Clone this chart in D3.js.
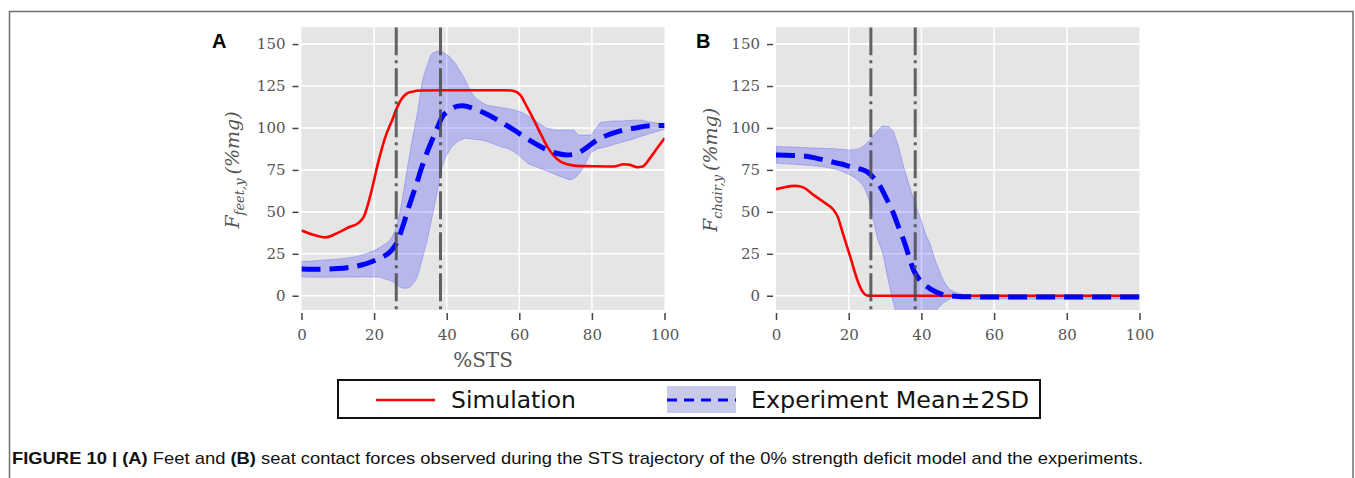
<!DOCTYPE html>
<html>
<head>
<meta charset="utf-8">
<script src="https://cdn.jsdelivr.net/npm/d3@7"></script>
<style>
  html, body { margin: 0; padding: 0; background: #fff; }
  svg { display: block; }
</style>
</head>
<body>
<svg id="fig" width="1355" height="478"></svg>
<script>
// ---- data: %STS vs contact force (%mg) ----
// Panel A: feet contact force
const feetSim = [[0,38.9],[3,36.5],[6.6,34.8],[10,37.5],[13,40.8],[15.8,43.6],[17.2,47.2],[19,60],[21.3,81],[23,94],[25,104.8],[26.5,113],[27.7,117.7],[29,120.5],[30.5,121.6],[33,122.3],[40,122.5],[50,122.5],[56,122.5],[58.5,122],[60.3,119.6],[62,113],[64,104.8],[66,96],[67.7,88.9],[69.5,83.5],[71.3,80],[73.5,78.2],[75.9,77.4],[80,77.2],[86,77],[88.8,78.4],[90.5,78],[92.5,76.6],[94,77],[96,82],[98,88],[100,93.9]];
const feetMean = [[0,15.9],[3,15.8],[6.5,15.9],[10,16.2],[13,16.9],[16.5,18.3],[19.5,20.4],[22,22.8],[24,25.4],[25.5,29],[26.4,32.3],[28,42],[29.6,53.2],[31.5,65.5],[33.2,77],[34.6,85.5],[36,92.9],[37.5,100.5],[38.8,106.7],[40,109.5],[41.5,111.7],[43,113],[44.3,113.3],[46,112.6],[48,111],[49.8,109.5],[53,106],[58.5,98.8],[63,92.5],[67.7,86.9],[70.5,84.8],[73.2,83.9],[75,84.3],[76.9,85.9],[79,89],[81.5,92.9],[85,96.3],[88.8,98.8],[92,100],[95.2,101.2],[100,101.5]];
const feetUpper = [[0,20.4],[5,21],[12.1,22.4],[17,24.5],[21.3,28.4],[23.5,31.5],[25,35.3],[26.5,44],[27.7,57],[29,74],[30.5,92.9],[32,110],[33.2,126.6],[34.6,137],[36,144.4],[37.5,145.8],[38.8,145.4],[40.5,143],[42.4,138.5],[44.5,131],[47,120.6],[49.3,115.7],[50.7,114],[54,112.5],[58.5,110.7],[61.2,108.7],[64,105],[67.7,99.8],[70.4,98.8],[73.2,98.8],[75,98.8],[76.3,95.8],[79.6,95.8],[81,99.5],[82.4,103.2],[85,104],[87.9,104.2],[90,104.5],[93.4,104.8],[96,103.5],[100,102.6]];
const feetLower = [[0,11.1],[6,11],[12.1,11.1],[17,11.2],[21.3,11.1],[23,10],[25,8.5],[26.5,6.2],[27.7,4.6],[29,4.5],[30.5,6.5],[32,12],[33.2,21.4],[34.6,33],[36,47.2],[37.4,62],[38.8,77],[40.2,84.5],[41.5,88.9],[43,91.8],[45.2,93.9],[47,93.3],[49.3,92.9],[50.7,92.2],[54,89.5],[58.5,85.9],[62.3,79],[65,76.5],[69.1,73],[72,70.5],[74.1,69],[75.5,70.5],[76.9,74],[78.5,80],[79.6,84.9],[81.5,87.5],[84.2,88.9],[87,90.8],[90.6,92.9],[95,96],[100,99.2]];

// Panel B: chair (seat) contact force
const chairSim = [[0,63.5],[2,64.5],[5.3,65.5],[7.5,64.6],[10.3,60.1],[13,56],[15.8,51.2],[17,47],[18.1,39.3],[20.4,23.4],[22.7,7.5],[23.8,2.5],[24.8,0.3],[26,0],[40,0],[60,0],[80,0],[100,0]];
const chairMean = [[0,83.9],[3,83.7],[7.6,83.3],[11,82],[14.9,80],[18,78.5],[20.4,77],[23,75.6],[25,74],[27,70],[28.7,65],[30.5,57.5],[32.3,49.2],[33.7,41],[35.1,33.3],[36.5,24],[37.8,15.5],[39.5,9.5],[41.5,5.5],[43.5,2.8],[46,0.6],[50,-0.4],[53.4,-0.6],[60,-0.8],[80,-0.8],[100,-0.8]];
const chairUpper = [[0,88.9],[6,88.5],[12.2,87.9],[17,87.5],[20.4,86.9],[22.5,87.5],[24.1,89.3],[25.9,92.9],[27.5,97.5],[29.6,101.2],[31,100.8],[32.3,97.8],[33.7,89],[35.1,77],[36.5,67],[38.3,55],[39.6,47],[41.5,35],[42.4,31],[44,20],[46,9.5],[48,3.5],[49.7,1.8],[52,0.6],[55,0.4],[100,0.4]];
const chairLower = [[0,79],[6,78.2],[12.2,77],[17,75],[20.4,72],[22.5,69],[24.1,65],[25.1,60],[25.9,54],[26.8,45],[27.7,36],[29.6,23],[30.5,13],[31.5,3],[32.3,-4.4],[33,-10],[34,-16],[36,-20],[40,-19],[42.5,-14],[44.2,-8.5],[46,-4.4],[48.7,-0.8],[51,-1.8],[55,-2],[100,-2]];

// Phase markers (%STS)
const phaseMarks = [26.1, 38.3];

const xTicks = [0, 20, 40, 60, 80, 100];
const yTicks = [0, 25, 50, 75, 100, 125, 150];
const xDomain = [0, 100];
const yDomain = [-8.5, 160];

const svg = d3.select("#fig");

// outer frame
svg.append("rect")
  .attr("x", 9.5).attr("y", 11.5)
  .attr("width", 1343.5).attr("height", 520)
  .attr("fill", "none").attr("stroke", "#6e6e6e").attr("stroke-width", 1.5);

function bandPoints(upper, lower) {
  // pair upper/lower on a shared x grid (linear between read points)
  const xs = Array.from(new Set(upper.map(d => d[0]).concat(lower.map(d => d[0])))).sort((a, b) => a - b);
  const at = (arr, x) => {
    for (let i = 0; i < arr.length - 1; i++) {
      if (x >= arr[i][0] && x <= arr[i + 1][0]) {
        const t = (x - arr[i][0]) / (arr[i + 1][0] - arr[i][0]);
        return arr[i][1] + t * (arr[i + 1][1] - arr[i][1]);
      }
    }
    return arr[arr.length - 1][1];
  };
  return xs.map(x => ({ x, hi: at(upper, x), lo: at(lower, x) }));
}

function drawPanel(cfg) {
  const x = d3.scaleLinear().domain(xDomain).range([cfg.x0, cfg.x1]);
  const y = d3.scaleLinear().domain(yDomain).range([310, 27.3]);
  const g = svg.append("g");

  // plot background
  g.append("rect")
    .attr("x", x(0)).attr("y", y(yDomain[1]))
    .attr("width", x(100) - x(0)).attr("height", y(yDomain[0]) - y(yDomain[1]))
    .attr("fill", "#e5e5e5");

  // grid
  g.append("g").selectAll("line").data(yTicks).join("line")
    .attr("x1", x(0)).attr("x2", x(100))
    .attr("y1", d => y(d)).attr("y2", d => y(d))
    .attr("stroke", "#fff").attr("stroke-width", 1.6);
  g.append("g").selectAll("line").data(xTicks.slice(1, -1)).join("line")
    .attr("x1", d => x(d)).attr("x2", d => x(d))
    .attr("y1", y(yDomain[0])).attr("y2", y(yDomain[1]))
    .attr("stroke", "#fff").attr("stroke-width", 1.6);

  // clip
  const clipId = "clip-" + cfg.id;
  svg.append("clipPath").attr("id", clipId).append("rect")
    .attr("x", x(0)).attr("y", y(yDomain[1]))
    .attr("width", x(100) - x(0)).attr("height", y(yDomain[0]) - y(yDomain[1]));
  const data = g.append("g").attr("clip-path", `url(#${clipId})`);

  // ±2SD band
  const band = bandPoints(cfg.upper, cfg.lower);
  const area = d3.area().x(d => x(d.x)).y0(d => y(d.lo)).y1(d => y(d.hi)).curve(d3.curveMonotoneX);
  data.append("path").attr("d", area(band))
    .attr("fill", "rgba(0,0,255,0.2)")
    .attr("stroke", "rgba(0,0,255,0.2)").attr("stroke-width", 1);

  const line = d3.line().x(d => x(d[0])).y(d => y(d[1])).curve(d3.curveMonotoneX);

  // simulation
  data.append("path").attr("d", line(cfg.sim))
    .attr("fill", "none").attr("stroke", "#ff0000").attr("stroke-width", 2.6)
    .attr("stroke-linejoin", "round");

  // experiment mean
  data.append("path").attr("d", line(cfg.mean))
    .attr("fill", "none").attr("stroke", "#0000ff").attr("stroke-width", 5)
    .attr("stroke-dasharray", "19,9");

  // phase markers
  data.append("g").selectAll("line").data(phaseMarks).join("line")
    .attr("x1", d => x(d)).attr("x2", d => x(d))
    .attr("y1", y(yDomain[1])).attr("y2", y(yDomain[0]))
    .attr("stroke", "#4a4a4a").attr("stroke-opacity", 0.85).attr("stroke-width", 3)
    .attr("stroke-dasharray", "28,5,3,5");

  // axes
  const yAxis = d3.axisLeft(y).tickValues(yTicks).tickSize(6).tickPadding(7);
  const ya = g.append("g").attr("transform", `translate(${x(0) - 3},0)`).call(yAxis);
  const xAxis = d3.axisBottom(x).tickValues(xTicks).tickSize(7).tickPadding(9);
  const xa = g.append("g").attr("transform", `translate(0,${y(yDomain[0]) + 3})`).call(xAxis);
  [ya, xa].forEach(a => {
    a.select(".domain").remove();
    a.selectAll(".tick line").attr("stroke", "#444").attr("stroke-width", 1.5);
    a.selectAll(".tick text").attr("fill", "#555")
      .style("font-family", "'DejaVu Serif', serif").style("font-size", "15px");
  });

  // panel letter
  g.append("text").attr("x", cfg.letterX).attr("y", 48)
    .style("font-family", "'Liberation Sans', Arial, sans-serif")
    .style("font-weight", "bold").style("font-size", "20px")
    .attr("fill", "#000").text(cfg.letter);

  // y label
  const yl = g.append("text")
    .attr("transform", `translate(${cfg.ylabelX},${170}) rotate(-90)`)
    .attr("text-anchor", "middle")
    .style("font-family", "'DejaVu Serif', serif").style("font-style", "italic")
    .style("font-size", "19px").attr("fill", "#555");
  yl.append("tspan").text("F");
  yl.append("tspan").attr("dy", 5).style("font-size", "13px").text(cfg.sub);
  yl.append("tspan").attr("dy", -5).attr("dx", 4).text("(%mg)");

  if (cfg.xlabel) {
    g.append("text").attr("x", x(50)).attr("y", 367)
      .attr("text-anchor", "middle")
      .style("font-family", "'DejaVu Serif', serif").style("font-size", "20px")
      .attr("fill", "#555").text(cfg.xlabel);
  }
}

drawPanel({ id: "a", x0: 301.5, x1: 664.5, sim: feetSim, mean: feetMean, upper: feetUpper, lower: feetLower,
  letter: "A", letterX: 212, ylabelX: 239, sub: "feet,y", xlabel: "%STS" });
drawPanel({ id: "b", x0: 776, x1: 1139.5, sim: chairSim, mean: chairMean, upper: chairUpper, lower: chairLower,
  letter: "B", letterX: 696, ylabelX: 717, sub: "chair,y", xlabel: null });

// legend
const lg = svg.append("g");
lg.append("rect").attr("x", 338).attr("y", 380).attr("width", 702).attr("height", 38)
  .attr("fill", "#fff").attr("stroke", "#111").attr("stroke-width", 2);
lg.append("line").attr("x1", 376).attr("x2", 435).attr("y1", 400).attr("y2", 400)
  .attr("stroke", "#ff0000").attr("stroke-width", 2.5);
lg.append("text").attr("x", 451).attr("y", 408)
  .style("font-family", "'DejaVu Sans', sans-serif").style("font-size", "23px")
  .attr("textLength", 125).attr("lengthAdjust", "spacingAndGlyphs")
  .attr("fill", "#111").text("Simulation");
lg.append("rect").attr("x", 667).attr("y", 386).attr("width", 69).attr("height", 27)
  .attr("fill", "#c9cae9");
lg.append("line").attr("x1", 667).attr("x2", 736).attr("y1", 400).attr("y2", 400)
  .attr("stroke", "#0000ff").attr("stroke-width", 3).attr("stroke-dasharray", "10,7");
lg.append("text").attr("x", 751).attr("y", 408)
  .style("font-family", "'DejaVu Sans', sans-serif").style("font-size", "23px")
  .attr("textLength", 278).attr("lengthAdjust", "spacingAndGlyphs")
  .attr("fill", "#111").text("Experiment Mean±2SD");

// caption
const cap = svg.append("text").attr("x", 12).attr("y", 464)
  .style("font-family", "'Liberation Sans', Arial, sans-serif").style("font-size", "17px")
  .attr("textLength", 1131).attr("lengthAdjust", "spacingAndGlyphs")
  .attr("fill", "#111");
cap.append("tspan").style("font-weight", "bold").text("FIGURE 10 | (A)");
cap.append("tspan").text(" Feet and ");
cap.append("tspan").style("font-weight", "bold").text("(B)");
cap.append("tspan").text(" seat contact forces observed during the STS trajectory of the 0% strength deficit model and the experiments.");
</script>
</body>
</html>
